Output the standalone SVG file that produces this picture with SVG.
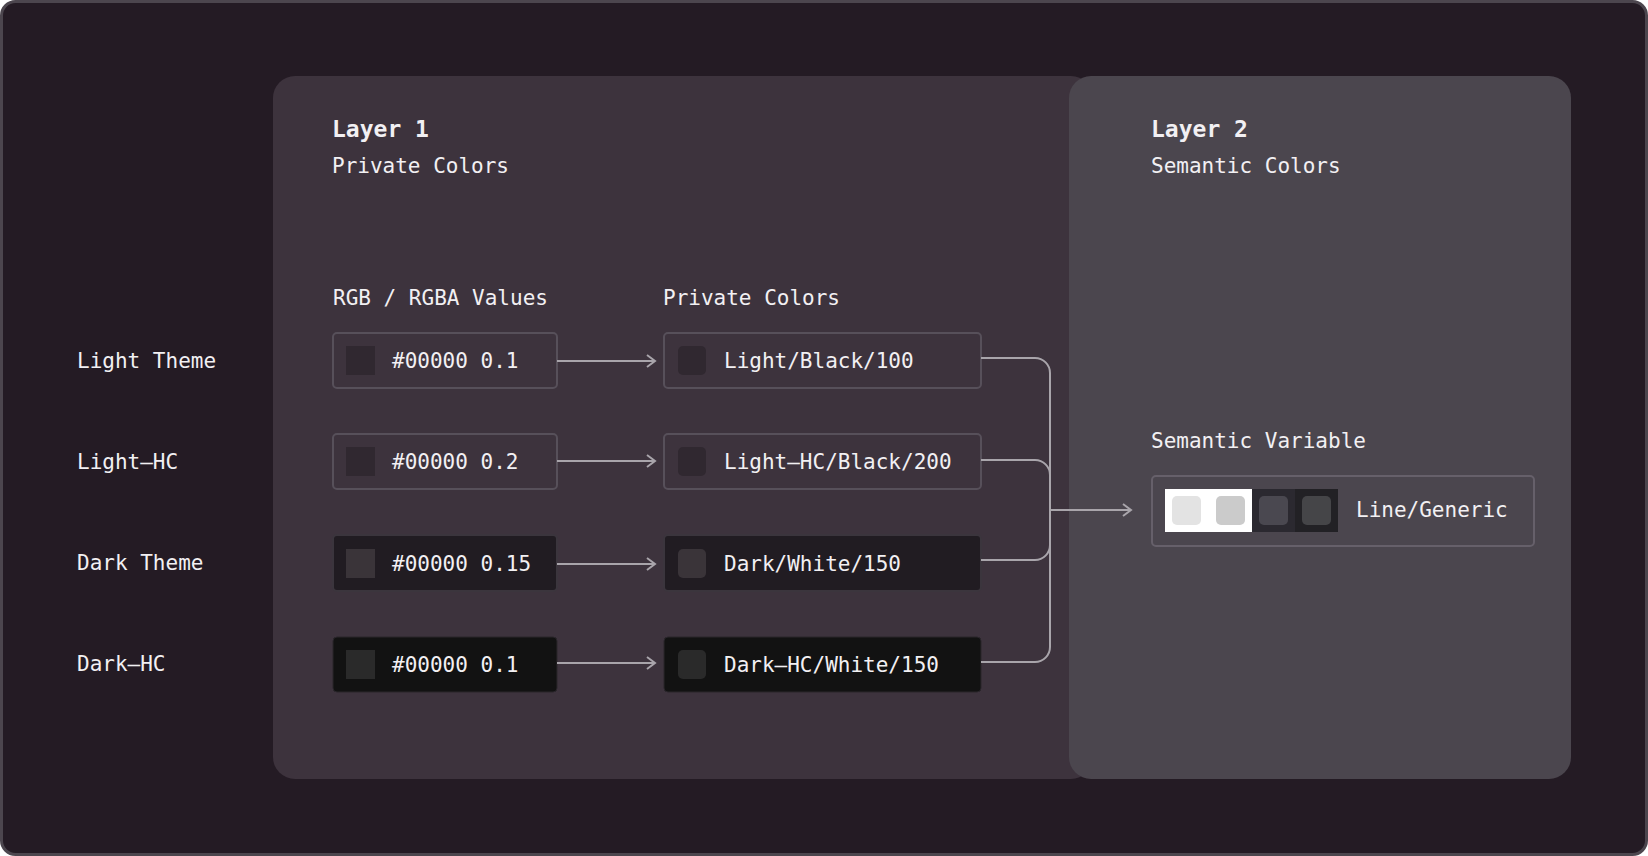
<svg xmlns="http://www.w3.org/2000/svg" width="1648" height="856" viewBox="0 0 1648 856">
<style>
text{font-family:"DejaVu Sans Mono","Liberation Mono",monospace;fill:#f2f0f3;font-size:21px}
.h{font-weight:bold;font-size:23px}
.con{fill:none;stroke:#a9a5ab;stroke-width:2}
</style>
<defs><marker id="a" markerWidth="12" markerHeight="14" refX="10" refY="7" orient="auto" markerUnits="userSpaceOnUse"><path d="M2,1 L10,7 L2,13" fill="none" stroke="#a9a5ab" stroke-width="2"/></marker></defs>
<rect x="1.5" y="1.5" width="1645" height="853" rx="14" fill="#241b24" stroke="#4c464e" stroke-width="3"/>
<g id="layer1"><rect x="273" y="76" width="820" height="703" rx="22" fill="#3d333d"/>
<text x="332" y="137" class="h">Layer 1</text><text x="332" y="173">Private Colors</text>
<text x="333" y="305">RGB / RGBA Values</text><text x="663" y="305">Private Colors</text></g>
<g id="layer2"><rect x="1069" y="76" width="502" height="703" rx="22" fill="#4b464e"/>
<text x="1151" y="137" class="h">Layer 2</text><text x="1151" y="173">Semantic Colors</text>
<text x="1151" y="448">Semantic Variable</text></g>
<g id="labels"><text x="77" y="368">Light Theme</text><text x="77" y="469">Light–HC</text><text x="77" y="570">Dark Theme</text><text x="77" y="671">Dark–HC</text></g>
<g id="row1"><rect x="333" y="333" width="224" height="55" rx="4" fill="#3d333d" stroke="#57505a" stroke-width="2"/><rect x="346" y="346" width="29" height="29" fill="#302830"/><text x="392" y="368">#00000 0.1</text>
<rect x="664" y="333" width="317" height="55" rx="4" fill="#3d333d" stroke="#57505a" stroke-width="2"/><rect x="678" y="346" width="28" height="29" rx="5" fill="#302830"/><text x="724" y="368">Light/Black/100</text></g>
<g id="row2"><rect x="333" y="434" width="224" height="55" rx="4" fill="#3d333d" stroke="#57505a" stroke-width="2"/><rect x="346" y="447" width="29" height="29" fill="#302830"/><text x="392" y="469">#00000 0.2</text>
<rect x="664" y="434" width="317" height="55" rx="4" fill="#3d333d" stroke="#57505a" stroke-width="2"/><rect x="678" y="447" width="28" height="29" rx="5" fill="#302830"/><text x="724" y="469">Light–HC/Black/200</text></g>
<g id="row3"><rect x="333" y="535" width="224" height="56" rx="4" fill="#211c22" stroke="#3b353d" stroke-width="2"/><rect x="346" y="549" width="29" height="29" fill="#3a3439"/><text x="392" y="571">#00000 0.15</text>
<rect x="664" y="535" width="317" height="56" rx="4" fill="#211c22" stroke="#3b353d" stroke-width="2"/><rect x="678" y="549" width="28" height="29" rx="5" fill="#3a3439"/><text x="724" y="571">Dark/White/150</text></g>
<g id="row4"><rect x="333" y="637" width="224" height="55" rx="4" fill="#121212" stroke="#2a262b" stroke-width="1"/><rect x="346" y="650" width="29" height="29" fill="#2a2a2a"/><text x="392" y="672">#00000 0.1</text>
<rect x="664" y="637" width="317" height="55" rx="4" fill="#121212" stroke="#2a262b" stroke-width="1"/><rect x="678" y="650" width="28" height="29" rx="5" fill="#2a2a2a"/><text x="724" y="672">Dark–HC/White/150</text></g>
<g id="semantic"><rect x="1152" y="476" width="382" height="70" rx="4" fill="#4b464e" stroke="#66606a" stroke-width="2"/>
<rect x="1165" y="489" width="87" height="43" fill="#ffffff"/><rect x="1252" y="489" width="43" height="43" fill="#2b2930"/><rect x="1295" y="489" width="43" height="43" fill="#222125"/>
<rect x="1172" y="496" width="29" height="29" rx="5" fill="#e3e3e3"/><rect x="1216" y="496" width="29" height="29" rx="5" fill="#cbcbcb"/><rect x="1259" y="496" width="29" height="29" rx="5" fill="#4a4850"/><rect x="1302" y="496" width="29" height="29" rx="5" fill="#454548"/>
<text x="1356" y="517">Line/Generic</text></g>
<g id="connectors">
<path class="con" d="M557 361H655" marker-end="url(#a)"/><path class="con" d="M557 461H655" marker-end="url(#a)"/><path class="con" d="M557 564H655" marker-end="url(#a)"/><path class="con" d="M557 663H655" marker-end="url(#a)"/>
<path class="con" d="M981 358H1035a15 15 0 0 1 15 15V647a15 15 0 0 1 -15 15H981"/>
<path class="con" d="M981 460H1035a15 15 0 0 1 15 15V545a15 15 0 0 1 -15 15H981"/>
<path class="con" d="M1050 510H1131" marker-end="url(#a)"/></g>
</svg>
